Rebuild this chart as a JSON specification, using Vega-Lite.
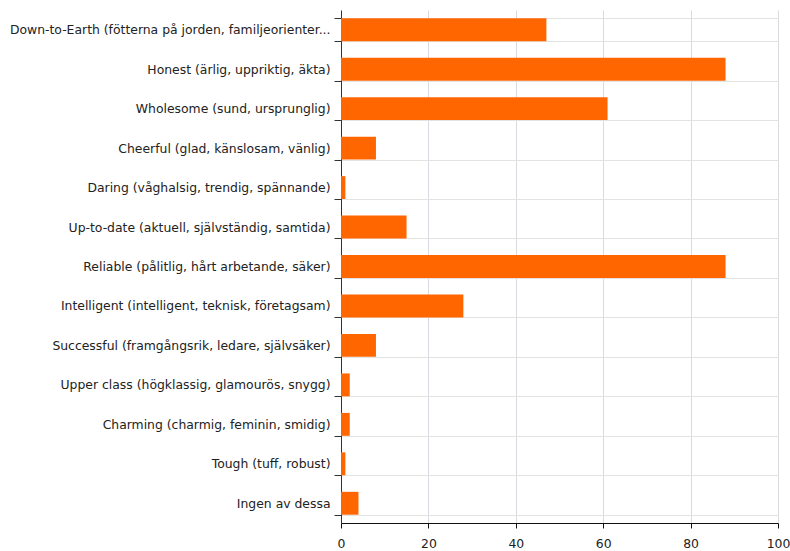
{
  "$schema": "https://vega.github.io/schema/vega-lite/v6.json",
  "width": 437,
  "height": 513,
  "autosize": {"type": "none"},
  "padding": {"left": 341, "top": 10, "right": 12, "bottom": 28},
  "background": "white",
  "config": {
    "view": {"stroke": null},
    "axis": {"labelFont": "DejaVu Sans", "labelColor": "#222", "labelFontSize": 12.4}
  },
  "data": {
    "values": [
      {"label": "Down-to-Earth (fötterna på jorden, familjeorienter...", "value": 47},
      {"label": "Honest (ärlig, uppriktig, äkta)", "value": 88},
      {"label": "Wholesome (sund, ursprunglig)", "value": 61},
      {"label": "Cheerful (glad, känslosam, vänlig)", "value": 8},
      {"label": "Daring (våghalsig, trendig, spännande)", "value": 1},
      {"label": "Up-to-date (aktuell, självständig, samtida)", "value": 15},
      {"label": "Reliable (pålitlig, hårt arbetande, säker)", "value": 88},
      {"label": "Intelligent (intelligent, teknisk, företagsam)", "value": 28},
      {"label": "Successful (framgångsrik, ledare, självsäker)", "value": 8},
      {"label": "Upper class (högklassig, glamourös, snygg)", "value": 2},
      {"label": "Charming (charmig, feminin, smidig)", "value": 2},
      {"label": "Tough (tuff, robust)", "value": 1},
      {"label": "Ingen av dessa", "value": 4}
    ]
  },
  "mark": {"type": "bar", "color": "#FF6600"},
  "encoding": {
    "y": {
      "field": "label",
      "type": "nominal",
      "sort": null,
      "scale": {"paddingInner": 0.42, "paddingOuter": 0.21},
      "axis": {
        "title": null,
        "grid": true,
        "gridColor": "#e3e3e3",
        "tickBand": "extent",
        "domainColor": "#333",
        "tickColor": "#333",
        "tickSize": 7,
        "labelPadding": 4,
        "labelLimit": 400
      }
    },
    "x": {
      "field": "value",
      "type": "quantitative",
      "scale": {"domain": [0, 100]},
      "axis": {
        "title": null,
        "values": [0, 20, 40, 60, 80, 100],
        "grid": true,
        "gridColor": "#d8dce0",
        "domainColor": "#111",
        "tickColor": "#111",
        "tickSize": 5,
        "labelFlush": false,
        "labelPadding": 9
      }
    }
  }
}
